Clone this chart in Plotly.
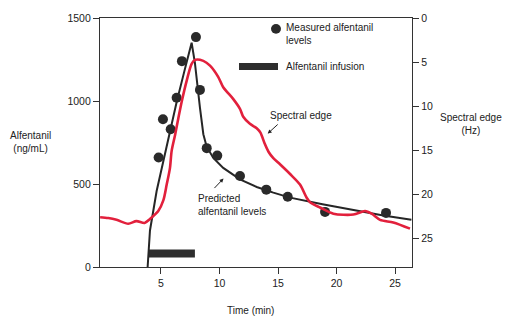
import plotly.graph_objects as go

# ---- data ----
meas_time = [4.8, 5.17, 5.83, 6.34, 6.79, 7.99, 8.33, 8.91, 9.81, 11.75, 14.0, 15.83, 19.02, 24.23]
meas_conc = [660, 890, 830, 1020, 1240, 1385, 1067, 716, 671, 548, 466, 423, 332, 326]

pred_time = [3.86, 4.06, 4.63, 5.5, 6.34, 7.0, 7.62, 7.9, 8.05, 8.33, 8.62, 8.9, 9.47,
             10.32, 11.75, 13.18, 14.6, 16.03, 18.8, 22.0, 24.0, 26.4]
pred_conc = [0, 220, 458, 740, 994, 1180, 1351, 1230, 1130, 960, 800, 726, 657,
             597, 528, 482, 448, 418, 378, 335, 310, 284]

se_time = [-0.2, 0.5, 1.2, 2.2, 2.9, 3.6, 4.06, 4.77, 5.2, 5.49, 5.77, 5.91, 6.2, 6.48,
           6.77, 7.2, 7.62, 7.91, 8.62, 9.19, 9.9, 10.32, 11.18, 11.75, 12.03, 12.6,
           13.18, 13.5, 13.85, 14.2, 14.6, 15.17, 16.03, 16.88, 17.45, 17.74, 18.59,
           19.73, 21.44, 22.44, 23.0, 23.72, 24.85, 26.28]
se_hz = [22.6, 22.7, 22.9, 23.35, 23.05, 23.25, 22.8, 21.9, 20.7, 18.9, 17.0, 15.1, 13.3, 11.4,
         9.5, 7.1, 5.2, 4.75, 4.86, 5.4, 6.7, 7.85, 9.2, 10.3, 11.2, 12.0,
         12.5, 13.0, 14.2, 15.2, 15.9, 16.6, 17.7, 18.9, 20.4, 20.9, 21.5,
         22.2, 22.3, 21.9, 22.2, 22.9, 23.2, 23.9]

infusion_time = [3.9, 7.9]
infusion_level = [81, 81]

x_ticks = [5, 10, 15, 20, 25]
left_ticks = [0, 500, 1000, 1500]
right_ticks = [0, 5, 10, 15, 20, 25]

FONT = "Liberation Sans, Arial, sans-serif"
TXT = "#222222"
AX = "#333333"
RED = "#e2203c"
DARK = "#262626"

fig = go.Figure()

fig.add_trace(go.Scatter(x=se_time, y=se_hz, yaxis="y2", mode="lines",
                         line=dict(color=RED, width=2.6, shape="spline", smoothing=0.8),
                         hoverinfo="skip"))
fig.add_trace(go.Scatter(x=infusion_time, y=infusion_level, mode="lines",
                         line=dict(color="#2e2e2e", width=8), hoverinfo="skip"))
fig.add_trace(go.Scatter(x=pred_time, y=pred_conc, mode="lines",
                         line=dict(color=DARK, width=2), hoverinfo="skip"))
fig.add_trace(go.Scatter(x=meas_time, y=meas_conc, mode="markers",
                         marker=dict(color="#2a2a2a", size=10), hoverinfo="skip"))

# pixel -> paper helpers (plot area: x 100..412, y 15..267)
def px(xp):
    return (xp - 100) / 312.0

def py(yp):
    return (267 - yp) / 252.0

shapes = [
    dict(type="circle", xref="paper", yref="paper", x0=px(271), x1=px(281), y0=py(31), y1=py(21),
         fillcolor="#2a2a2a", line=dict(width=0)),
    dict(type="rect", xref="paper", yref="paper", x0=px(239), x1=px(278), y0=py(67.5), y1=py(60.5),
         fillcolor="#2e2e2e", line=dict(width=0)),
]

def txt(x, y, s, xanchor="left", align="left"):
    return dict(xref="paper", yref="paper", x=px(x), y=py(y), text=s, showarrow=False,
                xanchor=xanchor, yanchor="middle", align=align,
                font=dict(family=FONT, size=10, color=TXT))

annotations = [
    txt(284, 31, "Measured alfentanil<br>levels"),
    txt(284, 64, "Alfentanil infusion"),
    txt(268, 114, "Spectral edge"),
    txt(196, 204, "Predicted<br>alfentanil levels"),
    txt(30, 140, "Alfentanil<br>(ng/mL)", xanchor="center", align="center"),
    txt(471, 122, "Spectral edge<br>(Hz)", xanchor="center", align="center"),
    txt(250, 311, "Time (min)", xanchor="center", align="center"),
    # arrows
    dict(xref="paper", yref="paper", x=px(267.7), y=py(132), ax=11.5, ay=-10.5, text="",
         showarrow=True, arrowhead=2, arrowsize=0.8, arrowwidth=1, arrowcolor=TXT),
    dict(xref="paper", yref="paper", x=px(223.5), y=py(177.5), ax=-10.5, ay=11, text="",
         showarrow=True, arrowhead=2, arrowsize=0.8, arrowwidth=1, arrowcolor=TXT),
]

axis_common = dict(showgrid=False, zeroline=False, showline=True, linecolor=AX, linewidth=1.3,
                   ticks="outside", ticklen=6, tickwidth=1.2, tickcolor=AX,
                   tickfont=dict(family=FONT, size=10.5, color=TXT))

fig.update_layout(
    width=512, height=325,
    margin=dict(l=100, r=100, t=15, b=58, pad=0),
    paper_bgcolor="white", plot_bgcolor="white",
    showlegend=False,
    xaxis=dict(range=[-0.21, 26.45], tickvals=x_ticks, mirror=True, **axis_common),
    yaxis=dict(range=[0, 1500], tickvals=left_ticks, **axis_common),
    yaxis2=dict(range=[28.25, 0], tickvals=right_ticks, overlaying="y", side="right",
                **axis_common),
    shapes=shapes,
    annotations=annotations,
)

fig.write_html("out.html")
